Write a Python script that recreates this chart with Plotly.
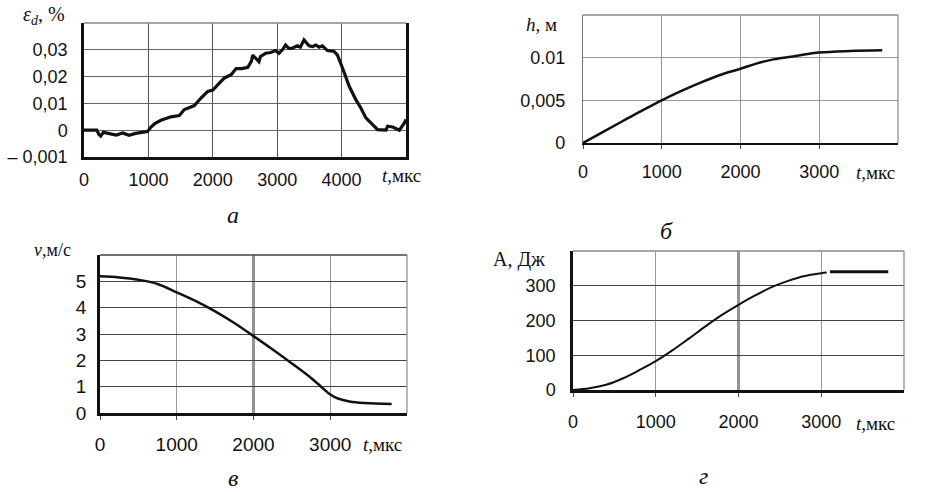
import plotly.graph_objects as go

W, H = 932, 492

# ---- data ----
t_a = [0, 200, 230, 260, 300, 400, 500, 600, 700, 800, 900, 986, 1040, 1100, 1194, 1280, 1350,
       1480, 1558, 1640, 1713, 1817, 1921, 2000, 2050, 2120, 2181, 2285, 2362, 2450, 2544, 2600,
       2620, 2716, 2740, 2820, 2900, 2975, 3026, 3080, 3130, 3180, 3234, 3312, 3360, 3416, 3494,
       3550, 3598, 3650, 3702, 3780, 3884, 3936, 4014, 4118, 4221, 4299, 4377, 4481, 4559, 4689,
       4715, 4793, 4850, 4897, 4975, 5000]
eps_a = [0, 0, -0.0015, -0.0022, -0.0008, -0.0012, -0.0018, -0.001, -0.0019, -0.0012, -0.0008,
         -0.0005, 0.0012, 0.0025, 0.0037, 0.0045, 0.005, 0.0055, 0.0077, 0.0085, 0.0092, 0.012,
         0.0145, 0.015, 0.0164, 0.018, 0.0195, 0.0207, 0.023, 0.023, 0.0235, 0.0258, 0.028, 0.0256,
         0.0275, 0.0287, 0.029, 0.0297, 0.0287, 0.030, 0.0318, 0.0305, 0.0306, 0.0315, 0.031,
         0.0337, 0.0315, 0.0312, 0.0318, 0.031, 0.0315, 0.0297, 0.0294, 0.028, 0.0232, 0.0164,
         0.0114, 0.0083, 0.0046, 0.0021, 0.0002, 0.0, 0.0015, 0.0012, 0.0005, 0.0, 0.0027, 0.004]

t_b = [0, 250, 500, 750, 1000, 1250, 1500, 1750, 2000, 2200, 2417, 2700, 3000, 3391, 3800]
h_b = [0, 0.00128, 0.00255, 0.0038, 0.005, 0.0061, 0.0071, 0.0080, 0.0087, 0.0093, 0.0098,
       0.0102, 0.0106, 0.01078, 0.01086]

t_c = [0, 250, 500, 750, 1000, 1250, 1500, 1750, 2000, 2250, 2500, 2750, 2900, 3000, 3100,
       3250, 3450, 3800]
v_c = [5.19, 5.15, 5.06, 4.9, 4.58, 4.25, 3.86, 3.42, 2.92, 2.41, 1.88, 1.33, 0.95, 0.7, 0.55,
       0.44, 0.38, 0.34]

t_d = [0, 200, 400, 600, 800, 1000, 1200, 1400, 1600, 1800, 2000, 2200, 2400, 2600, 2800, 3000,
       3065]
A_d = [0, 5, 15, 33, 57, 83, 114, 148, 183, 216, 245, 272, 296, 314, 328, 336, 338]
t_d2 = [3105, 3810]
A_d2 = [340, 340]

x_ticks_a = [0, 1000, 2000, 3000, 4000]
y_ticks_a = [-0.01, 0, 0.01, 0.02, 0.03]
y_text_a = ["– 0,001", "0", "0,01", "0,02", "0,03"]
x_ticks_bcd = [0, 1000, 2000, 3000]
y_ticks_b = [0, 0.005, 0.01]
y_text_b = ["0", "0,005", "0.01"]
y_ticks_c = [0, 1, 2, 3, 4, 5]
y_ticks_d = [0, 100, 200, 300]

FONT_T = "Liberation Sans, Arial, sans-serif"
FONT_S = "Liberation Serif, Times New Roman, serif"


def dx(px):
    return px / W


def dy(py):
    return 1 - py / H


boxes = {
    "": (84, 406, 23, 157),
    "2": (583, 898, 15, 143),
    "3": (100, 407, 255, 413),
    "4": (573, 904, 251, 390),
}

fig = go.Figure()
fig.add_trace(go.Scatter(x=t_a, y=eps_a, mode="lines", line=dict(color="#111", width=3.2),
                         xaxis="x", yaxis="y", showlegend=False))
fig.add_trace(go.Scatter(x=t_b, y=h_b, mode="lines", line=dict(color="#111", width=2.5, shape="spline"),
                         xaxis="x2", yaxis="y2", showlegend=False))
fig.add_trace(go.Scatter(x=t_c, y=v_c, mode="lines", line=dict(color="#111", width=2.5, shape="spline"),
                         xaxis="x3", yaxis="y3", showlegend=False))
fig.add_trace(go.Scatter(x=t_d, y=A_d, mode="lines", line=dict(color="#111", width=2, shape="spline"),
                         xaxis="x4", yaxis="y4", showlegend=False))
fig.add_trace(go.Scatter(x=t_d2, y=A_d2, mode="lines", line=dict(color="#111", width=3),
                         xaxis="x4", yaxis="y4", showlegend=False))

layout = dict(width=W, height=H, margin=dict(l=0, r=0, t=0, b=0),
              paper_bgcolor="white", plot_bgcolor="white", showlegend=False)

specs = {
    "": dict(xr=[0, 5000], xt=x_ticks_a, xtt=[str(v) for v in x_ticks_a], yr=[-0.01, 0.04],
             yt=y_ticks_a, ytt=y_text_a, grid="#666", fs=18, xso=5, yso=10),
    "2": dict(xr=[0, 4000], xt=x_ticks_bcd, xtt=[str(v) for v in x_ticks_bcd], yr=[0, 0.015],
              yt=y_ticks_b, ytt=y_text_b, grid="#999", fs=18, xso=7, yso=13),
    "3": dict(xr=[0, 4000], xt=x_ticks_bcd, xtt=[str(v) for v in x_ticks_bcd], yr=[0, 6],
              yt=y_ticks_c, ytt=[str(v) for v in y_ticks_c], grid="#444", fs=19, xso=8, yso=7),
    "4": dict(xr=[0, 4000], xt=x_ticks_bcd, xtt=[str(v) for v in x_ticks_bcd], yr=[0, 400],
              yt=y_ticks_d, ytt=[str(v) for v in y_ticks_d], grid="#444", fs=18, xso=10, yso=11),
}

for k, (x0, x1, y0, y1) in boxes.items():
    s = specs[k]
    ax = "xaxis" + k
    ay = "yaxis" + k
    xid = "x" + k if k else "x"
    yid = "y" + k if k else "y"
    tickfont = dict(family=FONT_T, size=s["fs"], color="#111")
    layout[ax] = dict(domain=[dx(x0), dx(x1)], anchor=yid, range=s["xr"], tickvals=s["xt"],
                      ticktext=s["xtt"], showgrid=True, gridcolor="#999" if k else "#555",
                      gridwidth=1, showline=True, linecolor="#111", linewidth=2.5,
                      zeroline=False, tickfont=tickfont, automargin=False,
                      ticks="outside" if k else "", ticklen=4, tickcolor="#444",
                      ticklabelstandoff=s["xso"], fixedrange=True)
    layout[ay] = dict(domain=[dy(y1), dy(y0)], anchor=xid, range=s["yr"], tickvals=s["yt"],
                      ticktext=s["ytt"], showgrid=True, gridcolor=s["grid"], gridwidth=1,
                      showline=True, linecolor="#111", linewidth=2.5 if k in ("", "3", "4") else 1.2,
                      mirror=(k == ""), zeroline=False, tickfont=tickfont, automargin=False,
                      ticklabelstandoff=s["yso"], fixedrange=True)

layout["yaxis2"]["linecolor"] = "#777"
layout["xaxis2"]["linewidth"] = 2

fig.update_layout(**layout)

shapes = []
# top / right borders (thin gray)
for k, (x0, x1, y0, y1) in boxes.items():
    xr = "x" + k if k else "x"
    yr = "y" + k if k else "y"
    shapes.append(dict(type="line", xref=xr + " domain", yref=yr + " domain", x0=0, x1=1, y0=1, y1=1,
                       line=dict(color="#444" if k in ("3",) else "#888", width=1.5)))
    if k != "":
        shapes.append(dict(type="line", xref=xr + " domain", yref=yr + " domain", x0=1, x1=1, y0=0, y1=1,
                           line=dict(color="#888", width=1.2)))
# darker vertical grid line at 2000 in panels c and d
for k in ("3", "4"):
    shapes.append(dict(type="line", xref="x" + k, yref="y" + k + " domain", x0=2000, x1=2000, y0=0, y1=1,
                       line=dict(color="#222", width=2), layer="below"))
fig.update_layout(shapes=shapes)

ann = []


def txt(text, x, y, size=18, family=FONT_S, xanchor="center"):
    ann.append(dict(text=text, x=dx(x), y=dy(y), xref="paper", yref="paper", showarrow=False,
                    xanchor=xanchor, yanchor="middle", font=dict(family=family, size=size, color="#111")))


# axis titles
txt("<i>ε<sub>d</sub></i>, %", 21, 16, 20, xanchor="left")
txt("<i>h</i>, м", 524, 24, 19, xanchor="left")
txt("<i>v</i>,м/с", 32, 250, 18, xanchor="left")
txt("А, Дж", 491, 259, 20, xanchor="left")
# time labels
txt("<i>t</i>,мкс", 380, 176, 19, xanchor="left")
txt("<i>t</i>,мкс", 854, 173, 19, xanchor="left")
txt("<i>t</i>,мкс", 361, 444, 19, xanchor="left")
txt("<i>t</i>,мкс", 854, 423, 19, xanchor="left")
# captions
txt("<i>а</i>", 233, 215, 24)
txt("<i>б</i>", 666, 231, 24)
txt("<i>в</i>", 233, 478, 24)
txt("<i>г</i>", 703, 476, 24)

fig.update_layout(annotations=ann)
fig.write_html("out.html", config={"displayModeBar": False},
               post_script="document.body.style.margin='0px';")
